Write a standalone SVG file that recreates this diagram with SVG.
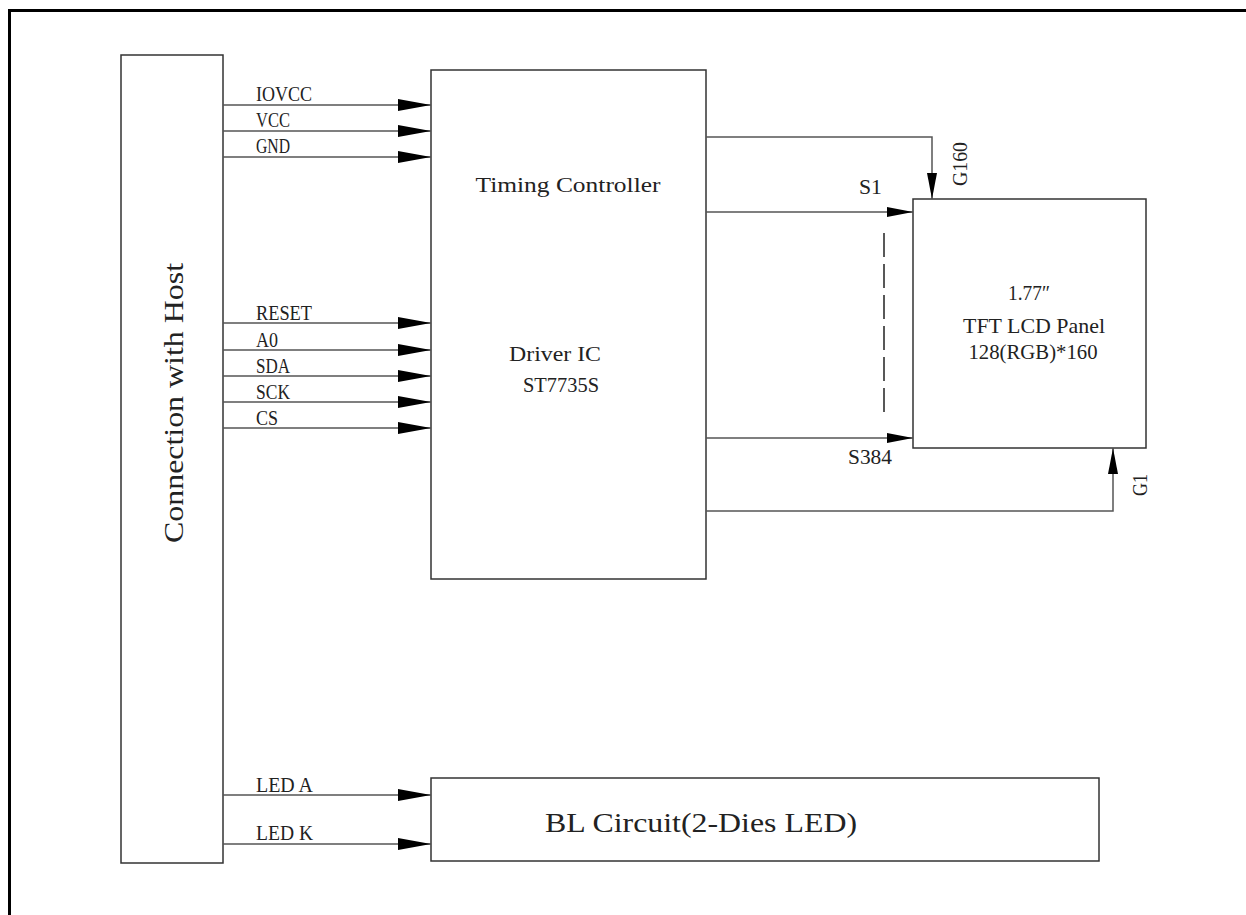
<svg xmlns="http://www.w3.org/2000/svg" width="1246" height="915" viewBox="0 0 1246 915">
<defs>
<style>
.box{fill:#fff;stroke:#333;stroke-width:1.5}
.wire{fill:none;stroke:#555;stroke-width:1.5}
.lbl{font-family:"Liberation Serif",serif;font-size:22px;fill:#222}
.big{font-family:"Liberation Serif",serif;font-size:28px;fill:#222}
</style>
<marker id="ah" viewBox="0 0 33 12" refX="33" refY="6" markerWidth="33" markerHeight="12" markerUnits="userSpaceOnUse" orient="auto">
<path d="M0,0 L33,6 L0,12 Z" fill="#000"/>
</marker>
<marker id="as" viewBox="0 0 26 10" refX="26" refY="5" markerWidth="26" markerHeight="10" markerUnits="userSpaceOnUse" orient="auto">
<path d="M0,0 L26,5 L0,10 Z" fill="#000"/>
</marker>
</defs>
<rect width="1246" height="915" fill="#fff"/>
<path d="M9.5,925 V10.5 H1260" fill="none" stroke="#000" stroke-width="3"/>

<g id="host">
<rect class="box" x="121" y="55" width="102" height="808"/>
<text class="big" transform="rotate(-90 183 403)" x="183" y="403" text-anchor="middle" textLength="280" lengthAdjust="spacingAndGlyphs">Connection with Host</text>
</g>

<g id="driver">
<rect class="box" x="431" y="70" width="275" height="509"/>
<text class="lbl" x="568" y="192" text-anchor="middle" textLength="185" lengthAdjust="spacingAndGlyphs">Timing Controller</text>
<text class="lbl" x="555" y="361" text-anchor="middle" textLength="92" lengthAdjust="spacingAndGlyphs">Driver IC</text>
<text class="lbl" x="561" y="392" text-anchor="middle" textLength="76" lengthAdjust="spacingAndGlyphs">ST7735S</text>
</g>

<g id="panel">
<rect class="box" x="913" y="199" width="233" height="249"/>
<text class="lbl" x="1029" y="300" text-anchor="middle" textLength="42" lengthAdjust="spacingAndGlyphs">1.77″</text>
<text class="lbl" x="1034" y="333" text-anchor="middle" textLength="142" lengthAdjust="spacingAndGlyphs">TFT LCD Panel</text>
<text class="lbl" x="1033" y="359" text-anchor="middle" textLength="129" lengthAdjust="spacingAndGlyphs">128(RGB)*160</text>
</g>

<g id="bl">
<rect class="box" x="431" y="778" width="668" height="83"/>
<text class="big" x="545" y="832" textLength="312" lengthAdjust="spacingAndGlyphs">BL Circuit(2-Dies LED)</text>
</g>

<g id="connectors">
<line class="wire" x1="223" y1="105" x2="431" y2="105" marker-end="url(#ah)"/>
<line class="wire" x1="223" y1="131" x2="431" y2="131" marker-end="url(#ah)"/>
<line class="wire" x1="223" y1="157" x2="431" y2="157" marker-end="url(#ah)"/>
<line class="wire" x1="223" y1="323" x2="431" y2="323" marker-end="url(#ah)"/>
<line class="wire" x1="223" y1="350" x2="431" y2="350" marker-end="url(#ah)"/>
<line class="wire" x1="223" y1="376" x2="431" y2="376" marker-end="url(#ah)"/>
<line class="wire" x1="223" y1="402" x2="431" y2="402" marker-end="url(#ah)"/>
<line class="wire" x1="223" y1="428" x2="431" y2="428" marker-end="url(#ah)"/>
<line class="wire" x1="223" y1="795" x2="431" y2="795" marker-end="url(#ah)"/>
<line class="wire" x1="223" y1="844" x2="431" y2="844" marker-end="url(#ah)"/>
<path class="wire" d="M706,137 H932 V199" marker-end="url(#as)"/>
<line class="wire" x1="706" y1="212" x2="913" y2="212" marker-end="url(#as)"/>
<line class="wire" x1="706" y1="438" x2="913" y2="438" marker-end="url(#as)"/>
<path class="wire" d="M706,511 H1113 V448" marker-end="url(#as)"/>
<line x1="884" y1="233" x2="884" y2="416" stroke="#222" stroke-width="1.5" stroke-dasharray="24,7"/>
</g>

<g id="labels">
<text class="lbl" x="256" y="101" textLength="56" lengthAdjust="spacingAndGlyphs">IOVCC</text>
<text class="lbl" x="256" y="127" textLength="34" lengthAdjust="spacingAndGlyphs">VCC</text>
<text class="lbl" x="256" y="153" textLength="34" lengthAdjust="spacingAndGlyphs">GND</text>
<text class="lbl" x="256" y="320" textLength="56" lengthAdjust="spacingAndGlyphs">RESET</text>
<text class="lbl" x="256" y="347" textLength="22" lengthAdjust="spacingAndGlyphs">A0</text>
<text class="lbl" x="256" y="373" textLength="34" lengthAdjust="spacingAndGlyphs">SDA</text>
<text class="lbl" x="256" y="399" textLength="34" lengthAdjust="spacingAndGlyphs">SCK</text>
<text class="lbl" x="256" y="425" textLength="22" lengthAdjust="spacingAndGlyphs">CS</text>
<text class="lbl" x="256" y="792" textLength="57" lengthAdjust="spacingAndGlyphs">LED A</text>
<text class="lbl" x="256" y="840" textLength="57" lengthAdjust="spacingAndGlyphs">LED K</text>
<text class="lbl" x="859" y="194" textLength="23" lengthAdjust="spacingAndGlyphs">S1</text>
<text class="lbl" x="848" y="464" textLength="44" lengthAdjust="spacingAndGlyphs">S384</text>
<text class="lbl" transform="rotate(-90 967 164)" x="967" y="164" text-anchor="middle" textLength="44" lengthAdjust="spacingAndGlyphs">G160</text>
<text class="lbl" transform="rotate(-90 1147 485)" x="1147" y="485" text-anchor="middle" textLength="22" lengthAdjust="spacingAndGlyphs">G1</text>
</g>
</svg>
